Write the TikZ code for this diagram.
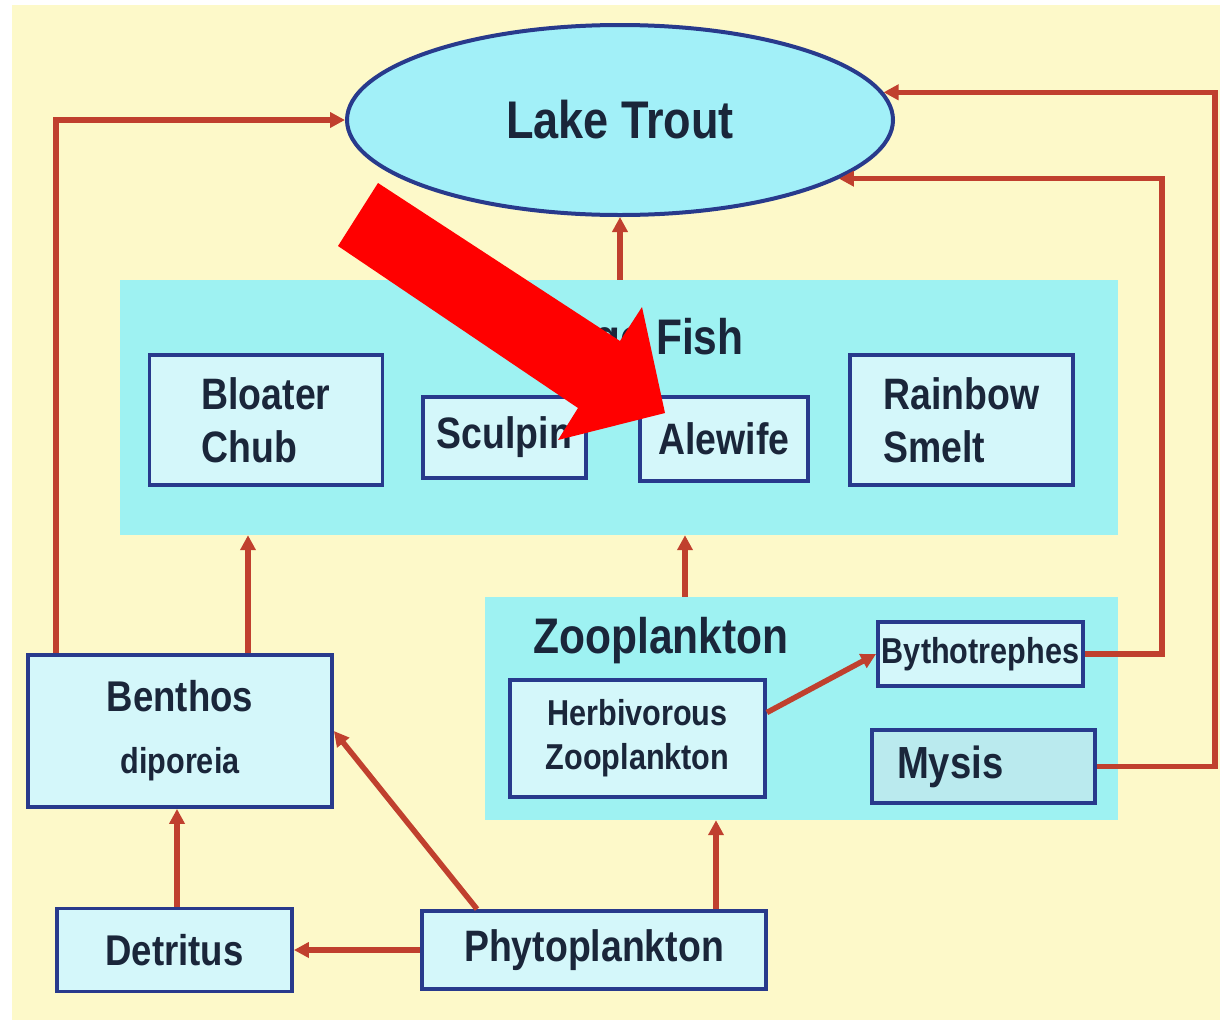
\documentclass[tikz,border=0pt]{standalone}
\usepackage{fontspec}
\setmainfont{Liberation Sans}[FakeStretch=0.85]
\usetikzlibrary{shapes.geometric,arrows.meta}
\definecolor{bgyellow}{RGB}{253,249,201}
\definecolor{panelcyan}{RGB}{158,242,242}
\definecolor{boxfill}{RGB}{212,247,250}
\definecolor{mysisfill}{RGB}{186,234,238}
\definecolor{navy}{RGB}{40,58,140}
\definecolor{txt}{RGB}{26,38,58}
\definecolor{linkred}{RGB}{192,64,46}
\definecolor{ellfill}{RGB}{162,240,248}
\tikzset{
  box/.style={draw=navy, line width=3.8pt, fill=boxfill, inner sep=0pt, text=txt,
    font=\bfseries\fontsize{44}{53}\selectfont, align=center},
  panel/.style={fill=panelcyan, inner sep=0pt},
  ptitle/.style={text=txt, font=\bfseries\fontsize{50}{56}\selectfont, inner sep=0pt},
  link/.style={draw=linkred, line width=5.5pt, -{Triangle[length=15pt,width=15pt]}},
}
\begin{document}
\begin{tikzpicture}[x=1pt,y=-1pt]
\useasboundingbox (0,0) rectangle (1220,1023);
\fill[white] (0,0) rectangle (1220,1023);
\fill[bgyellow] (12,5) rectangle (1220,1020);

% panels
\node[panel, minimum width=998pt, minimum height=255pt] (ff) at (619,407.5) {};
\node[ptitle, anchor=base] (fftitle) at (623,354) {Forage Fish};
\node[panel, minimum width=633pt, minimum height=223pt] (zp) at (801.5,708.5) {};
\node[ptitle, anchor=base] (zptitle) at (661,653) {Zooplankton};

% top predator
\node[ellipse, draw=navy, line width=4pt, fill=ellfill, inner sep=0pt,
      minimum width=546pt, minimum height=190pt, text=txt,
      font=\bfseries\fontsize{53}{60}\selectfont] (lt) at (620,120) {Lake Trout};

% forage fish boxes
\node[box, align=left, minimum width=233pt, minimum height=130pt] (bc) at (266,420) {Bloater\\Chub};
\node[box, minimum width=163pt, minimum height=81pt] (sc) at (504.5,437.5) {Sculpin};
\node[box, minimum width=168pt, minimum height=84pt] (al) at (724,439) {Alewife};
\node[box, align=left, minimum width=223pt, minimum height=130pt] (rs) at (961.5,420) {Rainbow\\Smelt};

% zooplankton boxes
\node[box, font=\bfseries\fontsize{36}{44}\selectfont, minimum width=255pt, minimum height=117pt] (hz) at (637.5,738.5) {Herbivorous\\Zooplankton};
\node[box, font=\bfseries\fontsize{36}{40}\selectfont, minimum width=205pt, minimum height=64pt] (by) at (980.5,654) {Bythotrephes};
\node[box, fill=mysisfill, font=\bfseries\fontsize{45}{50}\selectfont, align=left,
      text width=173pt, inner xsep=25pt, minimum height=73pt] (my) at (983.5,766.5) {Mysis};

% bottom boxes
\node[box, font=\bfseries\fontsize{43}{62}\selectfont, minimum width=304pt, minimum height=152pt] (be) at (180,731) {Benthos\\{\fontsize{36}{62}\selectfont diporeia}};
\node[box, font=\bfseries\fontsize{43}{50}\selectfont, minimum width=235pt, minimum height=83pt] (de) at (174.5,950) {Detritus};
\node[box, font=\bfseries\fontsize{44}{50}\selectfont, minimum width=344pt, minimum height=78pt] (ph) at (594,950) {Phytoplankton};

% connectors
\draw[link] ([xshift=30pt]be.north west) |- (lt.west);
\draw[link] ([xshift=68pt]be.north) -- ([xshift=68pt]be.north |- ff.south);
\draw[link] (ff.north -| lt.south) -- (lt.south);
\draw[link] ([xshift=-116.5pt]zp.north) -- ([xshift=-116.5pt]zp.north |- ff.south);
\draw[link] (by.east) -- ++(77,0) |- (lt.-15);
\draw[link] (my.east) -- ++(118,0) |- (lt.6);
\draw[link] ([yshift=26pt]hz.east) -- (by.west);
\draw[link] ([xshift=-117pt]ph.north) -- (be.east);
\draw[link] ([xshift=122pt]ph.north) -- ([xshift=122pt]ph.north |- zp.south);
\draw[link] (ph.west) -- (de.east);
\draw[link] ([xshift=2.5pt]de.north) -- ([xshift=2.5pt]de.north |- be.south);

% big red annotation arrow
\fill[red] (378,183) -- (620,341) -- (642,307) -- (665,413) -- (558,440) -- (578,408) -- (338,246) -- cycle;
\end{tikzpicture}
\end{document}
